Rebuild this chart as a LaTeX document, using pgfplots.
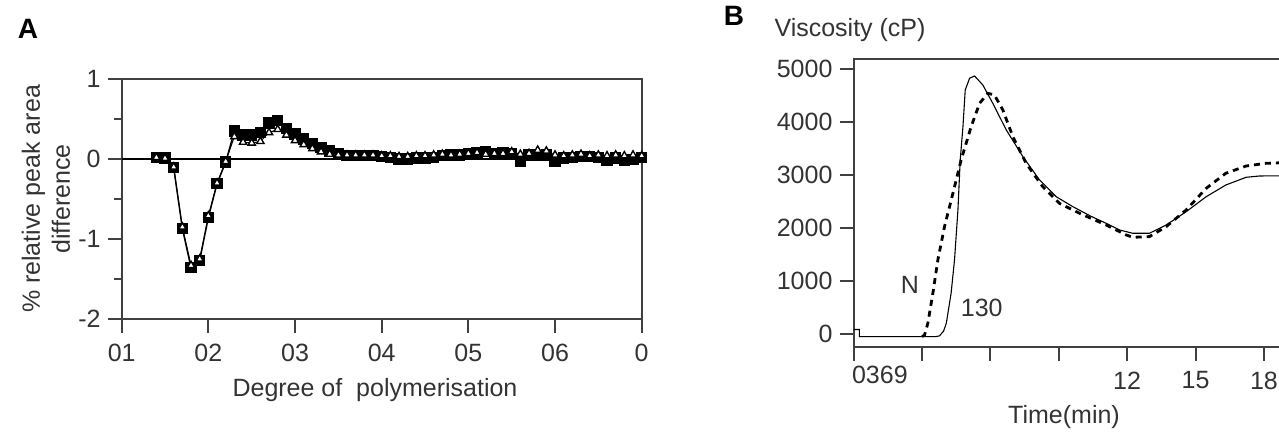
\documentclass[border=0pt]{standalone}
\usepackage{fontspec}
\setmainfont{Liberation Sans}
\usepackage{pgfplots}
\pgfplotsset{compat=1.18}
\definecolor{ink}{HTML}{333333}
\definecolor{frame}{HTML}{404040}

\pgfplotsset{
  panel/.style={
    scale only axis, anchor=south west,
    axis line style={frame,line width=1pt},
    tick style={frame,line width=1pt},
    tick align=outside, tick pos=left,
    major tick length=7pt, minor tick length=4pt,
    tick label style={font=\fontsize{12.5}{14}\selectfont,text=ink},
    /pgf/number format/assume math mode=true,
    /pgf/number format/1000 sep={},
  },
}

\begin{document}
\begin{tikzpicture}
  \useasboundingbox (0,0) rectangle (639.5pt,216.5pt);

  % panel A
  \begin{axis}[panel,
    at={(60.85pt,57pt)}, width=260pt, height=120pt,
    xmin=10, xmax=70, ymin=-2, ymax=1,
    xtick={10,20,30,40,50,60,70},
    xticklabels={01,02,03,04,05,06,0},
    ytick={-2,-1,0,1}, minor ytick={-1.5,-0.5,0.5},
    xticklabel style={yshift=-2pt},
  ]
    \draw[black,line width=0.6pt] (axis cs:10,0) -- (axis cs:70,0);
    \addplot[black,line width=0.7pt,mark=square*,
             mark size=2.5pt,mark options={fill=black}]
      coordinates {(14,0.02) (15,0.01) (16,-0.11) (17,-0.87) (18,-1.36)
        (19,-1.27) (20,-0.73) (21,-0.31) (22,-0.04) (23,0.35) (24,0.30)
        (25,0.30) (26,0.33) (27,0.45) (28,0.48) (29,0.38) (30,0.31)
        (31,0.25) (32,0.19) (33,0.14) (34,0.10) (35,0.06) (36,0.04)
        (37,0.04) (38,0.04) (39,0.04) (40,0.03) (41,0.02) (42,0.00)
        (43,0.00) (44,0.01) (45,0.01) (46,0.02) (47,0.04) (48,0.05)
        (49,0.05) (50,0.06) (51,0.08) (52,0.09) (53,0.07) (54,0.08)
        (55,0.06) (56,-0.03) (57,0.05) (58,0.04) (59,0.05) (60,-0.03)
        (61,0.01) (62,0.02) (63,0.03) (64,0.03) (65,0.02) (66,-0.02)
        (67,0.01) (68,-0.02) (69,-0.01) (70,0.02)};
    \addplot[black,line width=0.5pt,mark=triangle*,
             mark size=2.1pt,mark options={fill=white,line width=0.7pt}]
      coordinates {(14,0.02) (15,0.01) (16,-0.10) (17,-0.85) (18,-1.33)
        (19,-1.25) (20,-0.71) (21,-0.30) (22,-0.03) (23,0.28) (24,0.21)
        (25,0.20) (26,0.22) (27,0.33) (28,0.37) (29,0.30) (30,0.23)
        (31,0.18) (32,0.13) (33,0.09) (34,0.06) (35,0.05) (36,0.05)
        (37,0.05) (38,0.05) (39,0.05) (40,0.04) (41,0.04) (42,0.03)
        (43,0.03) (44,0.04) (45,0.04) (46,0.05) (47,0.06) (48,0.05)
        (49,0.06) (50,0.07) (51,0.08) (52,0.06) (53,0.07) (54,0.07)
        (55,0.09) (56,0.06) (57,0.07) (58,0.11) (59,0.10) (60,0.05)
        (61,0.04) (62,0.05) (63,0.06) (64,0.04) (65,0.05) (66,0.04)
        (67,0.05) (68,0.04) (69,0.05) (70,0.04)};
  \end{axis}

  % panel B
  \begin{axis}[panel,
    at={(426.75pt,43.15pt)}, width=216.6pt, height=143.85pt,
    xmin=0, xmax=19, ymin=-234, ymax=5194,
    xtick={0,3,6,9,12,15,18},
    xticklabels={,,,,12,15,18},
    ytick={0,1000,2000,3000,4000,5000},
    xticklabel style={yshift=-2pt},
  ]
    \addplot[black,line width=0.55pt] coordinates {
      (0,90) (0.26,90) (0.26,-45) (3.6,-45) (3.77,-30) (3.95,60)
      (4.07,208) (4.28,773) (4.43,1402) (4.58,2345) (4.68,3289)
      (4.80,3917) (4.90,4609) (5.09,4830) (5.31,4874) (5.67,4704)
      (6.11,4358) (6.70,3855) (7.43,3351) (8.16,2911) (8.89,2596)
      (9.62,2408) (10.4,2230) (11.08,2094) (11.67,1968) (12.25,1906)
      (12.98,1906) (13.71,2062) (14.59,2313) (15.47,2596) (16.33,2817)
      (17.22,2962) (17.81,2987) (19,2990)};
    \addplot[black,line width=1.4pt,dash pattern=on 3pt off 2.5pt]
      coordinates {
      (3.0,-40) (3.11,-20) (3.26,208) (3.48,773) (3.70,1402) (3.99,2030)
      (4.36,2660) (4.72,3289) (5.16,3917) (5.53,4358) (5.89,4547)
      (6.18,4515) (6.55,4232) (6.99,3728) (7.57,3226) (8.30,2785)
      (9.03,2472) (9.91,2283) (11.08,2062) (11.96,1874) (12.25,1830)
      (12.98,1843) (13.71,2030) (14.59,2345) (15.47,2755) (16.33,3038)
      (17.22,3175) (18.09,3226) (19,3240)};
  \end{axis}

  % texts
  \begin{scope}[every node/.style={text=ink,font=\fontsize{12.5}{14}\selectfont}]
    \node[font=\fontsize{14}{16}\selectfont\bfseries,text=black] at (14pt,202pt) {A};
    \node[font=\fontsize{14}{16}\selectfont\bfseries,text=black] at (367pt,208.5pt) {B};
    \node[rotate=90,align=center] at (23pt,117pt)
      {\% relative peak area\\[1pt]difference};
    \node at (187.5pt,21.5pt) {Degree of\ \ polymerisation};
    \node at (425pt,201.5pt) {Viscosity (cP)};
    \node at (532pt,8pt) {Time(min)};
    \node[anchor=north west] at (422.5pt,37pt) {0369};
    \node at (455pt,74pt) {N};
    \node at (490.85pt,62.35pt) {130};
  \end{scope}
\end{tikzpicture}
\end{document}
